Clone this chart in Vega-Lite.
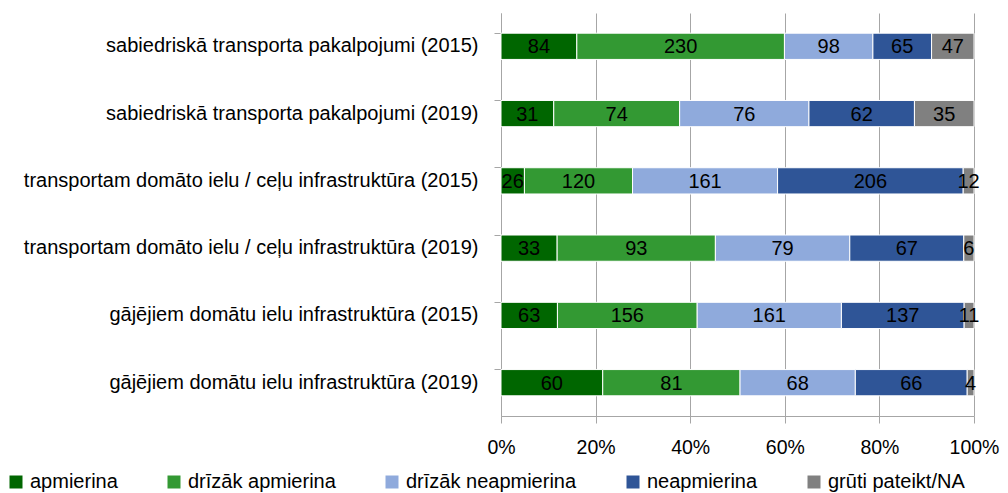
{
  "$schema": "https://vega.github.io/schema/vega-lite/v6.json",
  "autosize": {"type": "none"},
  "width": 473,
  "height": 403,
  "padding": {"left": 501, "top": 13, "right": 34, "bottom": 77},
  "background": "white",
  "config": {"view": {"stroke": null}},
  "data": {"values": [
    {"cat": "sabiedriskā transporta pakalpojumi (2015)", "resp": "apmierina", "o": 1, "n": 84},
    {"cat": "sabiedriskā transporta pakalpojumi (2015)", "resp": "drīzāk apmierina", "o": 2, "n": 230},
    {"cat": "sabiedriskā transporta pakalpojumi (2015)", "resp": "drīzāk neapmierina", "o": 3, "n": 98},
    {"cat": "sabiedriskā transporta pakalpojumi (2015)", "resp": "neapmierina", "o": 4, "n": 65},
    {"cat": "sabiedriskā transporta pakalpojumi (2015)", "resp": "grūti pateikt/NA", "o": 5, "n": 47},
    {"cat": "sabiedriskā transporta pakalpojumi (2019)", "resp": "apmierina", "o": 1, "n": 31},
    {"cat": "sabiedriskā transporta pakalpojumi (2019)", "resp": "drīzāk apmierina", "o": 2, "n": 74},
    {"cat": "sabiedriskā transporta pakalpojumi (2019)", "resp": "drīzāk neapmierina", "o": 3, "n": 76},
    {"cat": "sabiedriskā transporta pakalpojumi (2019)", "resp": "neapmierina", "o": 4, "n": 62},
    {"cat": "sabiedriskā transporta pakalpojumi (2019)", "resp": "grūti pateikt/NA", "o": 5, "n": 35},
    {"cat": "transportam domāto ielu / ceļu infrastruktūra (2015)", "resp": "apmierina", "o": 1, "n": 26},
    {"cat": "transportam domāto ielu / ceļu infrastruktūra (2015)", "resp": "drīzāk apmierina", "o": 2, "n": 120},
    {"cat": "transportam domāto ielu / ceļu infrastruktūra (2015)", "resp": "drīzāk neapmierina", "o": 3, "n": 161},
    {"cat": "transportam domāto ielu / ceļu infrastruktūra (2015)", "resp": "neapmierina", "o": 4, "n": 206},
    {"cat": "transportam domāto ielu / ceļu infrastruktūra (2015)", "resp": "grūti pateikt/NA", "o": 5, "n": 12},
    {"cat": "transportam domāto ielu / ceļu infrastruktūra (2019)", "resp": "apmierina", "o": 1, "n": 33},
    {"cat": "transportam domāto ielu / ceļu infrastruktūra (2019)", "resp": "drīzāk apmierina", "o": 2, "n": 93},
    {"cat": "transportam domāto ielu / ceļu infrastruktūra (2019)", "resp": "drīzāk neapmierina", "o": 3, "n": 79},
    {"cat": "transportam domāto ielu / ceļu infrastruktūra (2019)", "resp": "neapmierina", "o": 4, "n": 67},
    {"cat": "transportam domāto ielu / ceļu infrastruktūra (2019)", "resp": "grūti pateikt/NA", "o": 5, "n": 6},
    {"cat": "gājējiem domātu ielu infrastruktūra (2015)", "resp": "apmierina", "o": 1, "n": 63},
    {"cat": "gājējiem domātu ielu infrastruktūra (2015)", "resp": "drīzāk apmierina", "o": 2, "n": 156},
    {"cat": "gājējiem domātu ielu infrastruktūra (2015)", "resp": "drīzāk neapmierina", "o": 3, "n": 161},
    {"cat": "gājējiem domātu ielu infrastruktūra (2015)", "resp": "neapmierina", "o": 4, "n": 137},
    {"cat": "gājējiem domātu ielu infrastruktūra (2015)", "resp": "grūti pateikt/NA", "o": 5, "n": 11},
    {"cat": "gājējiem domātu ielu infrastruktūra (2019)", "resp": "apmierina", "o": 1, "n": 60},
    {"cat": "gājējiem domātu ielu infrastruktūra (2019)", "resp": "drīzāk apmierina", "o": 2, "n": 81},
    {"cat": "gājējiem domātu ielu infrastruktūra (2019)", "resp": "drīzāk neapmierina", "o": 3, "n": 68},
    {"cat": "gājējiem domātu ielu infrastruktūra (2019)", "resp": "neapmierina", "o": 4, "n": 66},
    {"cat": "gājējiem domātu ielu infrastruktūra (2019)", "resp": "grūti pateikt/NA", "o": 5, "n": 4}
  ]},
  "transform": [
    {"stack": "n", "groupby": ["cat"], "sort": [{"field": "o", "order": "ascending"}], "offset": "normalize", "as": ["s0", "s1"]},
    {"calculate": "(datum.s0 + datum.s1) / 2", "as": "mid"}
  ],
  "encoding": {
    "y": {
      "field": "cat", "type": "nominal", "sort": null,
      "scale": {"paddingInner": 0.61, "paddingOuter": 0.3},
      "axis": {
        "title": null, "bandPosition": 0, "domainColor": "#a6a6a6", "tickColor": "#a6a6a6",
        "tickSize": 7, "labelFont": "Liberation Sans", "labelFontSize": 20, "labelColor": "#000000",
        "labelPadding": 16, "labelLimit": 600, "grid": false
      }
    }
  },
  "layer": [
    {
      "mark": {"type": "bar", "stroke": "white", "strokeWidth": 1},
      "encoding": {
        "x": {
          "field": "s0", "type": "quantitative",
          "scale": {"domain": [0, 1], "nice": false},
          "axis": {
            "title": null, "format": "%", "values": [0, 0.2, 0.4, 0.6, 0.8, 1],
            "grid": true, "gridColor": "#a6a6a6", "domainColor": "#a6a6a6", "tickColor": "#a6a6a6",
            "tickSize": 7, "labelFont": "Liberation Sans", "labelFontSize": 19.5,
            "labelColor": "#000000", "labelPadding": 15, "labelFlush": false
          }
        },
        "x2": {"field": "s1"},
        "color": {
          "field": "resp", "type": "nominal",
          "scale": {
            "domain": ["apmierina", "drīzāk apmierina", "drīzāk neapmierina", "neapmierina", "grūti pateikt/NA"],
            "range": ["#006600", "#339933", "#8faadc", "#2f5597", "#808080"]
          },
          "legend": {
            "title": null, "orient": "none", "direction": "horizontal",
            "legendX": -495, "legendY": 459, "symbolType": "square", "symbolSize": 169,
            "symbolStrokeWidth": 0, "labelFont": "Liberation Sans", "labelFontSize": 20,
            "labelColor": "#000000", "columnPadding": 46, "labelOffset": 4, "labelLimit": 300
          }
        }
      }
    },
    {
      "mark": {"type": "text", "font": "Liberation Sans", "fontSize": 20, "color": "#000000", "baseline": "middle", "dy": 1},
      "encoding": {
        "x": {"field": "mid", "type": "quantitative"},
        "text": {"field": "n", "type": "quantitative"}
      }
    }
  ]
}
